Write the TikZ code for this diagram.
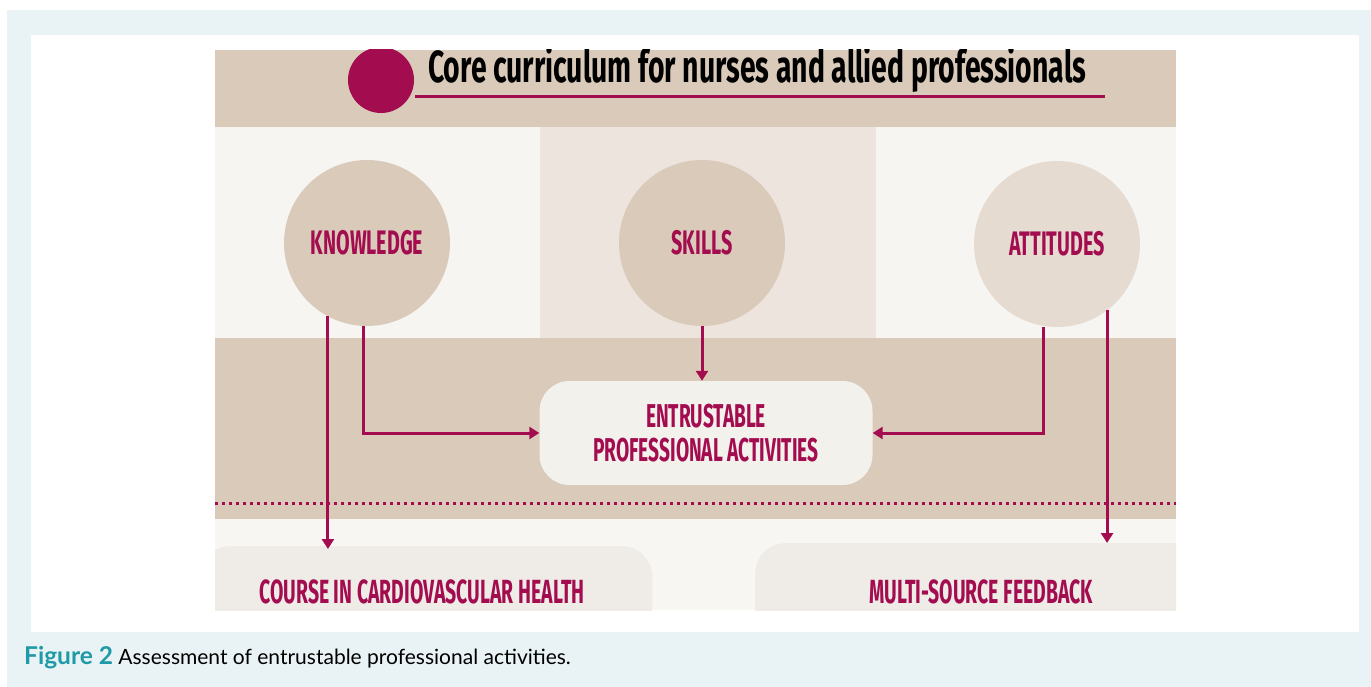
\documentclass[tikz,border=0pt]{standalone}
\usepackage{fontspec}
\usepackage{xcolor}
\usetikzlibrary{arrows.meta,positioning}
\setmainfont{Lato}
\newfontfamily\condfont[FakeStretch=0.58]{Fira Sans}
\newfontfamily\headfont[FakeStretch=0.63]{Fira Sans}

\definecolor{bgblue}{HTML}{E9F2F4}
\definecolor{tan}{HTML}{D9CABA}
\definecolor{paper}{HTML}{F6F5F1}
\definecolor{midcol}{HTML}{EDE4DD}
\definecolor{pale}{HTML}{E5DBD0}
\definecolor{boxfill}{HTML}{F3F1EC}
\definecolor{lowfill}{HTML}{F8F6F3}
\definecolor{botfill}{HTML}{EFECE8}
\definecolor{berry}{HTML}{A30D4F}
\definecolor{capteal}{HTML}{1E9BA6}

\begin{document}
\begin{tikzpicture}[x=1pt,y=-1pt,
    topic/.style={circle, minimum size=166pt, inner sep=0pt, fill=tan, text=berry,
        font=\condfont\bfseries\fontsize{34}{34}\selectfont},
    epabox/.style={rounded corners=30pt, fill=boxfill, minimum width=333pt, minimum height=104pt,
        align=center, text=berry, font=\condfont\bfseries\fontsize{33}{34}\selectfont},
    botbox/.style={rounded corners=30pt, fill=botfill, minimum height=120pt, inner sep=0pt},
    botlabel/.style={text=berry, inner sep=0pt, font=\condfont\bfseries\fontsize{33.5}{33.5}\selectfont},
    arr/.style={draw=berry, line width=3pt, -{Triangle[length=10pt,width=12pt]}}]
    \useasboundingbox (0,0) rectangle (1371,687);
    % frame and caption
    \fill[bgblue] (7,10) rectangle (1371,687);
    \fill[white] (31,35) rectangle (1359,632);
    \node[anchor=base west, inner sep=0pt, font=\fontsize{21}{22}\selectfont] (caption) at (24,664)
        {{\fontsize{24.5}{24}\selectfont\bfseries\color{capteal}Figure 2} Assessment of entrustable professional activities.};
    \begin{scope}
        \clip (215,50) rectangle (1176,610);
        % bands
        \fill[tan] (215,50) rectangle (1176,127);
        \fill[paper] (215,127) rectangle (540,338);
        \fill[midcol] (540,127) rectangle (876,338);
        \fill[paper] (876,127) rectangle (1176,338);
        \fill[tan] (215,338) rectangle (1176,519);
        \fill[lowfill] (215,519) rectangle (1176,610);
        \draw[berry, line width=3pt, dash pattern=on 3pt off 4pt] (215,503) -- (1176,503);
        % title
        \fill[berry] (381,80) circle (33);
        \draw[berry, line width=3pt] (415,97) -- (1105,97);
        \node[anchor=base west, inner sep=0pt, font=\headfont\bfseries\fontsize{45}{45}\selectfont] (title) at (428,83)
            {Core curriculum for nurses and allied professionals};
        % circles
        \node[topic] (know) at (367,243) {KNOWLEDGE};
        \node[topic] (skills) at (702,243) {SKILLS};
        \node[topic, fill=pale] (att) at (1057,244) {ATTITUDES};
        \node[epabox] (epa) at (706,433) {ENTRUSTABLE\\PROFESSIONAL ACTIVITIES};
        % bottom boxes
        \node[botbox, minimum width=452pt, anchor=north west] (course) at (200,546) {};
        \node[botbox, minimum width=450pt, anchor=north west] (msf) at (755,543) {};
        \node[botlabel] (courselbl) at (422,592) {COURSE IN CARDIOVASCULAR HEALTH};
        \node[botlabel] (msflbl) at (981,592) {MULTI-SOURCE FEEDBACK};
        % arrows
        \draw[arr] ([xshift=-4pt]know.south) |- (epa.west);
        \draw[arr] (skills.south) -- (skills.south |- epa.north);
        \draw[arr] ([xshift=-14pt]att.south) |- (epa.east);
        \draw[arr] (know.242) -- ([yshift=-3pt]know.242 |- course.north);
        \draw[arr] (att.307) -- (att.307 |- msf.north);
    \end{scope}
\end{tikzpicture}
\end{document}
